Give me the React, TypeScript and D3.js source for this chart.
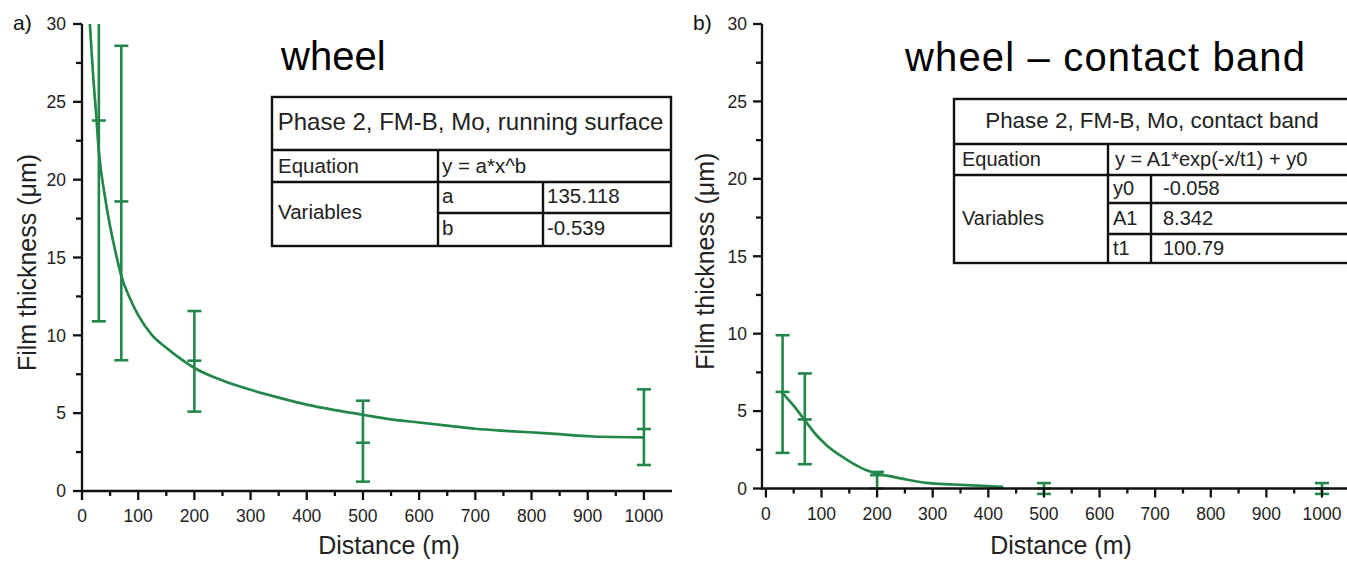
import React from 'react';
import * as d3 from 'd3';

// ---------- data ----------
const xMajorTicks = [0, 100, 200, 300, 400, 500, 600, 700, 800, 900, 1000];
const xMinorTicks = [50, 150, 250, 350, 450, 550, 650, 750, 850, 950];
const yMajorTicks = [0, 5, 10, 15, 20, 25, 30];
const yMinorTicks = [2.5, 7.5, 12.5, 17.5, 22.5, 27.5];

// panel a) wheel – running surface (fit curve read off the picture)
const wheelCurveX = [14, 17, 20, 25, 30, 40, 50, 60, 70, 85, 100, 125, 150, 175, 200, 250, 300, 350, 400, 450, 500, 550, 600, 650, 700, 760, 830, 910, 1000];
const wheelCurveY = [30, 28.3, 26.6, 24.3, 21.8, 19.1, 17.0, 15.3, 13.8, 12.4, 11.3, 10.0, 9.2, 8.5, 7.9, 7.1, 6.5, 6.0, 5.55, 5.2, 4.9, 4.6, 4.4, 4.2, 4.0, 3.85, 3.7, 3.5, 3.45];
const wheelBarX = [30, 70, 200, 500, 1000];
const wheelBarMean = [23.8, 18.6, 8.37, 3.1, 3.98];
const wheelBarLow = [10.9, 8.4, 5.1, 0.6, 1.67];
const wheelBarHigh = [36.7, 28.6, 11.56, 5.8, 6.53];

// panel b) wheel – contact band
const bandCurveX = [28, 49, 70, 91, 109, 133, 157, 181, 199, 229, 253, 289, 337, 380, 427];
const bandCurveY = [6.24, 5.38, 4.41, 3.44, 2.8, 2.15, 1.61, 1.18, 0.97, 0.75, 0.58, 0.36, 0.26, 0.18, 0.1];
const bandBarX = [30, 70, 200, 500, 1000];
const bandBarMean = [6.24, 4.46, 0.86, 0.0, 0.0];
const bandBarLow = [2.3, 1.57, 0.0, -0.35, -0.35];
const bandBarHigh = [9.9, 7.43, 1.07, 0.35, 0.35];

// tables
const tableATitle = 'Phase 2, FM-B, Mo, running surface';
const tableAEquation = 'y = a*x^b';
const tableANames = ['a', 'b'];
const tableAValues = ['135.118', '-0.539'];

const tableBTitle = 'Phase 2, FM-B, Mo, contact band';
const tableBEquation = 'y = A1*exp(-x/t1) + y0';
const tableBNames = ['y0', 'A1', 't1'];
const tableBValues = ['-0.058', '8.342', '100.79'];

const GREEN = '#23874b';
const FONT = '"Liberation Sans", Arial, Helvetica, sans-serif';

type PanelProps = {
  id: string;
  xDomain: [number, number];
  xRange: [number, number];
  yRange: [number, number];
  curveX: number[];
  curveY: number[];
  barX: number[];
  barMean: number[];
  barLow: number[];
  barHigh: number[];
  tag: string;
  tagX: number;
  yTitleX: number;
  xTitleX: number;
  yLabelGap: number;
};

function Panel(p: PanelProps) {
  const x = d3.scaleLinear().domain(p.xDomain).range(p.xRange);
  const y = d3.scaleLinear().domain([0, 30]).range(p.yRange);
  const x0 = p.xRange[0];
  const y0 = p.yRange[0];
  const pts = p.curveX.map((v, i) => [v, p.curveY[i]] as [number, number]);
  const line = d3
    .line<[number, number]>()
    .x((d) => x(d[0]))
    .y((d) => y(d[1]))
    .curve(d3.curveMonotoneX);
  const cap = 7;
  return (
    <g fontFamily={FONT}>
      <defs>
        <clipPath id={p.id}>
          <rect x={x0 - 20} y={p.yRange[1]} width={p.xRange[1] - x0 + 40} height={563} />
        </clipPath>
      </defs>
      {/* data */}
      <g clipPath={`url(#${p.id})`}>
        <path d={line(pts) || ''} fill="none" stroke={GREEN} strokeWidth={2.7} />
        {p.barX.map((bx, i) => {
          const cx = x(bx);
          return (
            <g key={i} stroke={GREEN} strokeWidth={2.6}>
              <line x1={cx} x2={cx} y1={y(p.barLow[i])} y2={y(p.barHigh[i])} />
              <line x1={cx - cap} x2={cx + cap} y1={y(p.barLow[i])} y2={y(p.barLow[i])} />
              <line x1={cx - cap} x2={cx + cap} y1={y(p.barHigh[i])} y2={y(p.barHigh[i])} />
              <line x1={cx - cap} x2={cx + cap} y1={y(p.barMean[i])} y2={y(p.barMean[i])} />
            </g>
          );
        })}
      </g>
      {/* axes */}
      <g stroke="#111" strokeWidth={2.3}>
        <line x1={x0} x2={x0} y1={p.yRange[1]} y2={y0 + 1} />
        <line x1={x0 - 1} x2={p.xRange[1]} y1={y0} y2={y0} />
        {xMajorTicks.map((t) => (
          <line key={'xm' + t} x1={x(t)} x2={x(t)} y1={y0} y2={y0 + 9} />
        ))}
        {xMinorTicks.map((t) => (
          <line key={'xn' + t} x1={x(t)} x2={x(t)} y1={y0} y2={y0 + 5} />
        ))}
        {yMajorTicks.map((t) => (
          <line key={'ym' + t} x1={x0} x2={x0 - 9} y1={y(t)} y2={y(t)} />
        ))}
        {yMinorTicks.map((t) => (
          <line key={'yn' + t} x1={x0} x2={x0 - 6} y1={y(t)} y2={y(t)} />
        ))}
      </g>
      <g fontSize={17.5} fill="#222">
        {xMajorTicks.map((t) => (
          <text key={'xl' + t} x={x(t)} y={y0 + 31} textAnchor="middle">
            {t}
          </text>
        ))}
        {yMajorTicks.map((t) => (
          <text key={'yl' + t} x={x0 - p.yLabelGap} y={y(t) + 6.3} textAnchor="end">
            {t}
          </text>
        ))}
      </g>
      <text x={p.tagX} y={30} fontSize={21} fill="#111">
        {p.tag}
      </text>
      <text
        transform={`translate(${p.yTitleX},${(p.yRange[0] + p.yRange[1]) / 2 + 5}) rotate(-90)`}
        textAnchor="middle"
        fontSize={25}
        fill="#222"
      >
        Film thickness (μm)
      </text>
      <text x={p.xTitleX} y={554} textAnchor="middle" fontSize={25} fill="#222">
        Distance (m)
      </text>
    </g>
  );
}

export default function App() {
  const sw = 2.4;
  // table geometry
  const aL = 272, aR = 671, aT = 97, aR1 = 150, aR2 = 182, aR3 = 213, aB = 246, aC1 = 438, aC2 = 543;
  const bL = 954, bR = 1362, bT = 99, bR1 = 144, bR2 = 175, bR3 = 203, bR4 = 234, bB = 263, bC1 = 1108, bC2 = 1151;
  return (
    <svg
      width={1347}
      height={563}
      style={{ position: 'absolute', left: 0, top: 0, background: '#fff' }}
      fontFamily={FONT}
    >
      <rect x={0} y={0} width={1347} height={563} fill="#fff" />
      <Panel
        id="clipA"
        xDomain={[0, 1050]}
        xRange={[82, 672]}
        yRange={[491, 24]}
        curveX={wheelCurveX}
        curveY={wheelCurveY}
        barX={wheelBarX}
        barMean={wheelBarMean}
        barLow={wheelBarLow}
        barHigh={wheelBarHigh}
        tag="a)"
        tagX={13}
        yTitleX={36}
        xTitleX={389}
        yLabelGap={16}
      />
      <Panel
        id="clipB"
        xDomain={[-7, 1045]}
        xRange={[762, 1347]}
        yRange={[488.5, 24]}
        curveX={bandCurveX}
        curveY={bandCurveY}
        barX={bandBarX}
        barMean={bandBarMean}
        barLow={bandBarLow}
        barHigh={bandBarHigh}
        tag="b)"
        tagX={693}
        yTitleX={714}
        xTitleX={1061}
        yLabelGap={15}
      />

      {/* titles */}
      <text x={281} y={70} fontSize={40} fill="#000">wheel</text>
      <text x={905} y={71} fontSize={40} fill="#000" textLength={400} lengthAdjust="spacing">
        wheel – contact band
      </text>

      {/* table A */}
      <g stroke="#111" strokeWidth={sw} fill="none">
        <rect x={aL} y={aT} width={aR - aL} height={aB - aT} fill="#fff" />
        <line x1={aL} x2={aR} y1={aR1} y2={aR1} />
        <line x1={aL} x2={aR} y1={aR2} y2={aR2} />
        <line x1={aC1} x2={aR} y1={aR3} y2={aR3} />
        <line x1={aC1} x2={aC1} y1={aR1} y2={aB} />
        <line x1={aC2} x2={aC2} y1={aR2} y2={aB} />
      </g>
      <g fill="#222" fontSize={20.5}>
        <text x={(aL + aR) / 2 - 1} y={130} textAnchor="middle" fontSize={24}>{tableATitle}</text>
        <text x={278} y={173}>Equation</text>
        <text x={442} y={173}>{tableAEquation}</text>
        <text x={278} y={219}>Variables</text>
        {tableANames.map((n, i) => (
          <text key={n} x={442} y={203 + i * 32}>{n}</text>
        ))}
        {tableAValues.map((v, i) => (
          <text key={v} x={547} y={203 + i * 32}>{v}</text>
        ))}
      </g>

      {/* table B */}
      <g stroke="#111" strokeWidth={sw} fill="none">
        <rect x={bL} y={bT} width={bR - bL} height={bB - bT} fill="#fff" />
        <line x1={bL} x2={bR} y1={bR1} y2={bR1} />
        <line x1={bL} x2={bR} y1={bR2} y2={bR2} />
        <line x1={bC1} x2={bR} y1={bR3} y2={bR3} />
        <line x1={bC1} x2={bR} y1={bR4} y2={bR4} />
        <line x1={bC1} x2={bC1} y1={bR1} y2={bB} />
        <line x1={bC2} x2={bC2} y1={bR2} y2={bB} />
      </g>
      <g fill="#222" fontSize={20}>
        <text x={1152} y={128} textAnchor="middle" fontSize={22.4}>{tableBTitle}</text>
        <text x={962} y={166}>Equation</text>
        <text x={1115} y={166}>{tableBEquation}</text>
        <text x={962} y={225}>Variables</text>
        {tableBNames.map((n, i) => (
          <text key={n} x={1113} y={195 + i * 30}>{n}</text>
        ))}
        {tableBValues.map((v, i) => (
          <text key={v} x={1163} y={195 + i * 30}>{v}</text>
        ))}
      </g>
    </svg>
  );
}
